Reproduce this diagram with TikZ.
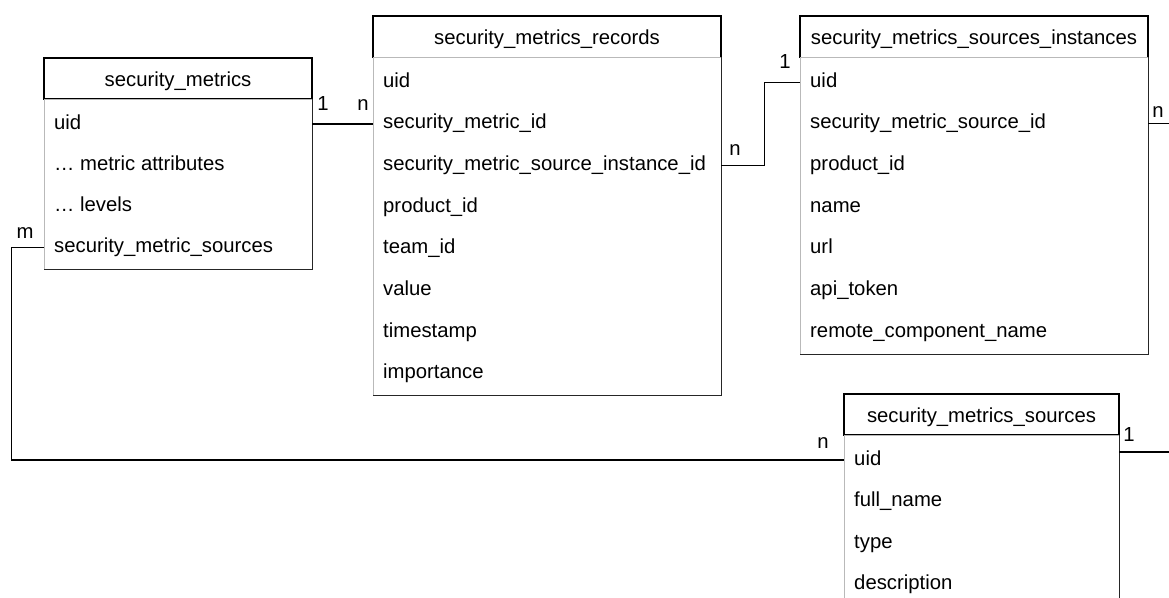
\documentclass[tikz,border=0pt]{standalone}
\usepackage{fontspec}
\setmainfont{Liberation Sans}
\usetikzlibrary{positioning}
\newcommand{\tabfont}{\fontsize{20.3}{24}\selectfont}
\tikzset{
  hdr/.style={rectangle, draw=black, line width=1.2pt, inner sep=0pt, font=\tabfont, text height=18.5pt, text depth=2.1pt},
  tbody/.style={rectangle, draw=gray!55, line width=0.9pt, inner sep=0pt},
  field/.style={anchor=base west, inner sep=0pt, font=\tabfont, text height=14.6pt, text depth=4.3pt},
  card/.style={anchor=base, inner sep=0pt, font=\tabfont},
  rel/.style={-, draw=black, line width=1.3pt},
  shade/.style={draw=black!85, line width=1.1pt}
}

\begin{document}
\begin{tikzpicture}[x=1pt, y=-1pt]
\useasboundingbox (0,0) rectangle (1169,597);

% tables
\node [hdr, minimum width=268, minimum height=41] (sm-head) at (178, 78.5) {security\_metrics};
\node [tbody, minimum width=268, minimum height=170] (sm-body) at (178, 184) {};
\node [hdr, minimum width=348, minimum height=41.5] (smr-head) at (547, 36.75) {security\_metrics\_records};
\node [tbody, minimum width=348, minimum height=337.5] (smr-body) at (547, 226.25) {};
\node [hdr, minimum width=348, minimum height=41.5] (smsi-head) at (974, 36.75) {security\_metrics\_sources\_instances};
\node [tbody, minimum width=348, minimum height=296.5] (smsi-body) at (974, 205.75) {};
\node [hdr, minimum width=275, minimum height=41] (sms-head) at (981.5, 414.5) {security\_metrics\_sources};
\node [tbody, minimum width=275, minimum height=205] (sms-body) at (981.5, 537.5) {};
\foreach \t in {sm, smr, smsi, sms}
  \draw [shade] (\t-body.north east) -- (\t-body.south east) -- (\t-body.south west);

% fields
\foreach \f [count=\i from 0] in {uid, … metric attributes, … levels, security\_metric\_sources}
  \node [field] (sm-\i) at (54, 129+41.3*\i) {\f};
\foreach \f [count=\i from 0] in {uid, security\_metric\_id, security\_metric\_source\_instance\_id, product\_id, team\_id, value, timestamp, importance}
  \node [field] (smr-\i) at (383, 87.3+41.67*\i) {\f};
\foreach \f [count=\i from 0] in {uid, security\_metric\_source\_id, product\_id, name, url, api\_token, remote\_component\_name}
  \node [field] (smsi-\i) at (810, 87.3+41.67*\i) {\f};
\foreach \f [count=\i from 0] in {uid, full\_name, type, description}
  \node [field] (sms-\i) at (854, 465+41.5*\i) {\f};

% relations
\coordinate (offR1) at (1175, 0);
\coordinate (offR2) at (1175, 452);
\draw [rel] (sm-body.east |- sm-0) -- (smr-body.west |- sm-0);
\draw [rel] (smr-body.east |- smr-2) -- ++(43,0) |- (smsi-body.west |- smsi-0);
\draw [rel] (smsi-body.east |- smsi-1) -- (offR1 |- smsi-1);
\draw [rel] (sms-body.east |- offR2) -- (offR2);
\draw [rel] (sm-body.west |- sm-3) -- ++(-32,0) |- (sms-body.west |- sms-0);

% cardinalities
\node [card] (c1) at (323, 110.5) {1};
\node [card] (c2) at (363, 110.5) {n};
\node [card] (c3) at (735, 155) {n};
\node [card] (c4) at (785, 68) {1};
\node [card] (c5) at (1158, 117) {n};
\node [card] (c6) at (1129, 441.5) {1};
\node [card] (c7) at (823, 448) {n};
\node [card] (c8) at (25, 238) {m};
\end{tikzpicture}
\end{document}
